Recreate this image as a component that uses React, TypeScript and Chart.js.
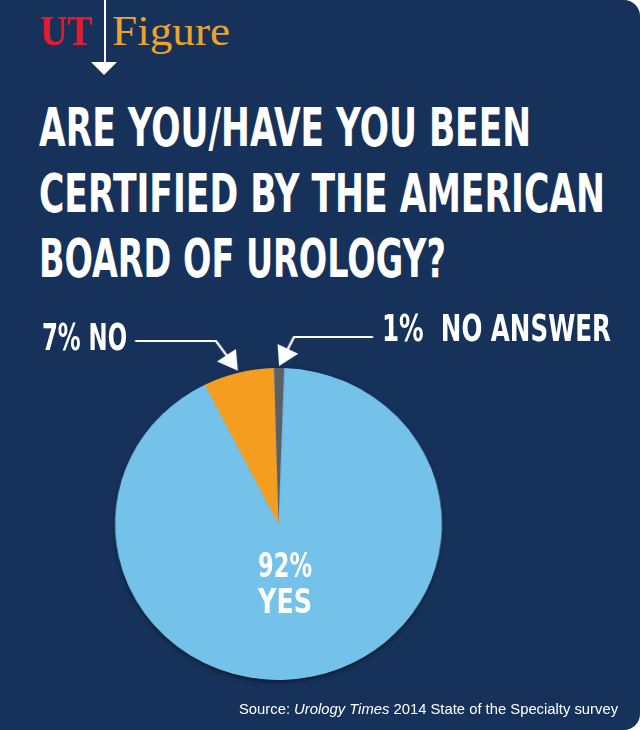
import React, { useEffect, useRef } from 'react';
import { Chart, registerables } from 'chart.js';
Chart.register(...registerables);

// ---- data ----
const categories = ['YES', 'NO', 'NO ANSWER'];
const values = [92, 7, 1];
const titleLines = ['ARE YOU/HAVE YOU BEEN', 'CERTIFIED BY THE AMERICAN', 'BOARD OF UROLOGY?'];
const sourceParts = ['Source: ', 'Urology Times', ' 2014 State of the Specialty survey'];

// ---- style ----
const sliceColors = ['#74c1ea', '#f59d1f', '#5c5f65'];
const BG = '#17325a';
const K = 1.048; // slight horizontal stretch of the pie, as in the reference
const CX = 278.5;
const CY = 524;
const COND = '"DejaVu Sans Condensed", "DejaVu Sans", sans-serif';
const SERIF = '"Liberation Serif", "DejaVu Serif", serif';
const SANS = '"Liberation Sans", Arial, sans-serif';

let measureCtx: CanvasRenderingContext2D | null = null;
function measure(text: string, font: string) {
  if (!measureCtx) measureCtx = document.createElement('canvas').getContext('2d');
  measureCtx!.font = font;
  return measureCtx!.measureText(text).width;
}

type TxtProps = {
  x: number; baseline: number; size: number; family: string; weight?: string;
  color?: string; width?: number; center?: boolean; text: string; italic?: boolean;
};
function Txt({ x, baseline, size, family, weight = 'normal', color = '#fff', width, center = false, text, italic }: TxtProps) {
  const top = baseline - 0.845 * size;
  const font = `${italic ? 'italic ' : ''}${weight} ${size}px ${family}`;
  const scale = width ? width / measure(text, font) : 1;
  return (
    <div
      style={{
        position: 'absolute', left: x, top, fontFamily: family, fontSize: size, fontWeight: weight as any,
        lineHeight: `${size}px`, color, whiteSpace: 'pre', fontStyle: italic ? 'italic' : 'normal',
        transform: center ? `translateX(-50%) scaleX(${scale})` : `scaleX(${scale})`,
        transformOrigin: center ? '50% 50%' : '0 0',
      }}
    >
      {text}
    </div>
  );
}

const titleWidths = [492, 566, 407];

export default function App() {
  const ref = useRef<HTMLCanvasElement>(null);

  useEffect(() => {
    const canvas = ref.current!;
    const toC = (X: number) => CX + (X - CX) / K;

    const head = (ctx: CanvasRenderingContext2D, bx: number, by: number, tx: number, ty: number) => {
      const dx = tx - bx, dy = ty - by;
      const L = Math.hypot(dx, dy);
      const ux = dx / L, uy = dy / L;
      const hl = 19, hw = 11;
      const baseX = tx - ux * hl, baseY = ty - uy * hl;
      ctx.beginPath();
      ctx.moveTo(tx, ty);
      ctx.lineTo(baseX - uy * hw, baseY + ux * hw);
      ctx.lineTo(baseX + uy * hw, baseY - ux * hw);
      ctx.closePath();
      ctx.fill();
      return [baseX + ux * 2, baseY + uy * 2];
    };

    const plugin = {
      id: 'arrows',
      beforeDatasetsDraw(chart: any) {
        const meta = chart.getDatasetMeta(0);
        const a = meta.data[0];
        if (!a) return;
        const ctx = chart.ctx as CanvasRenderingContext2D;
        ctx.save();
        ctx.shadowColor = 'rgba(0,0,0,0.55)';
        ctx.shadowBlur = 5;
        ctx.shadowOffsetY = 2;
        ctx.fillStyle = sliceColors[0];
        ctx.beginPath();
        ctx.arc(a.x, a.y, a.outerRadius - 0.5, 0, Math.PI * 2);
        ctx.fill();
        ctx.restore();
      },
      afterDatasetsDraw(chart: any) {
        const meta = chart.getDatasetMeta(0);
        const ctx = chart.ctx as CanvasRenderingContext2D;
        const tipOf = (i: number) => {
          const p = meta.data[i];
          const m = (p.startAngle + p.endAngle) / 2;
          const r = p.outerRadius + 2;
          return [p.x + r * Math.cos(m), p.y + r * Math.sin(m)];
        };
        ctx.save();
        ctx.strokeStyle = '#fff';
        ctx.fillStyle = '#fff';
        ctx.lineWidth = 2.2;
        ctx.lineJoin = 'miter';
        // NO arrow
        const [t1x, t1y] = tipOf(1);
        const b1x = toC(216), b1y = 341;
        const [h1x, h1y] = head(ctx, b1x, b1y, t1x, t1y);
        ctx.beginPath();
        ctx.moveTo(toC(135), 341);
        ctx.lineTo(b1x, b1y);
        ctx.lineTo(h1x, h1y);
        ctx.stroke();
        // NO ANSWER arrow
        const [t2x, t2y] = tipOf(2);
        const b2x = toC(294), b2y = 337;
        const [h2x, h2y] = head(ctx, b2x, b2y, t2x, t2y);
        ctx.beginPath();
        ctx.moveTo(toC(373), 337);
        ctx.lineTo(b2x, b2y);
        ctx.lineTo(h2x, h2y);
        ctx.stroke();
        ctx.restore();
      },
    };

    const chart = new Chart(canvas, {
      type: 'pie',
      data: {
        labels: categories,
        datasets: [{
          data: values,
          backgroundColor: sliceColors,
          borderWidth: 0,
          hoverOffset: 0,
        }],
      },
      options: {
        animation: false,
        responsive: true,
        maintainAspectRatio: false,
        rotation: 2,
        layout: { padding: { left: CX - 156, right: 640 - (CX + 156), top: 368, bottom: 730 - 680 } },
        plugins: { legend: { display: false }, tooltip: { enabled: false }, title: { display: false } },
        events: [],
      },
      plugins: [plugin],
    });
    return () => chart.destroy();
  }, []);

  return (
    <div style={{ position: 'absolute', left: 0, top: 0, width: 640, height: 730, background: '#fff', overflow: 'hidden' }}>
      <div style={{ position: 'absolute', inset: 0, background: BG, borderRadius: '0 16px 16px 0' }} />
      {/* header mark */}
      <div style={{ position: 'absolute', left: 103.5, top: 0, width: 2, height: 63, background: '#fff' }} />
      <div style={{
        position: 'absolute', left: 91, top: 62, width: 0, height: 0,
        borderLeft: '13.5px solid transparent', borderRight: '13.5px solid transparent', borderTop: '13px solid #fff',
      }} />
      <Txt x={40} baseline={45} size={42} family={SERIF} weight="bold" color="#e31b2d" width={52} text="UT" />
      <Txt x={112} baseline={45} size={43} family={SERIF} color="#eea22d" width={118} text="Figure" />
      {/* title */}
      {titleLines.map((t, i) => (
        <Txt key={i} x={39} baseline={147 + i * 65.5} size={54} family={COND} weight="bold" width={titleWidths[i]} text={t} />
      ))}
      {/* chart */}
      <div style={{ position: 'absolute', left: 0, top: 0, width: 640, height: 730, transform: `scaleX(${K})`, transformOrigin: `${CX}px ${CY}px` }}>
        <canvas ref={ref} />
      </div>
      {/* labels */}
      <Txt x={42} baseline={350} size={37} family={COND} weight="bold" width={85} text={`${values[1]}% ${categories[1]}`} />
      <Txt x={382} baseline={341} size={37} family={COND} weight="bold" width={229} text={`${values[2]}%  ${categories[2]}`} />
      <Txt x={285} baseline={577} size={34} family={COND} weight="bold" width={54} center text={`${values[0]}%`} />
      <Txt x={285} baseline={613} size={34} family={COND} weight="bold" width={54} center text={categories[0]} />
      {/* source */}
      <div style={{ position: 'absolute', left: 239, top: 715 - 0.845 * 14.8, fontFamily: SANS, fontSize: 14.8, lineHeight: '14.8px', color: '#fff', whiteSpace: 'pre' }}>
        {sourceParts[0]}<i>{sourceParts[1]}</i>{sourceParts[2]}
      </div>
    </div>
  );
}
